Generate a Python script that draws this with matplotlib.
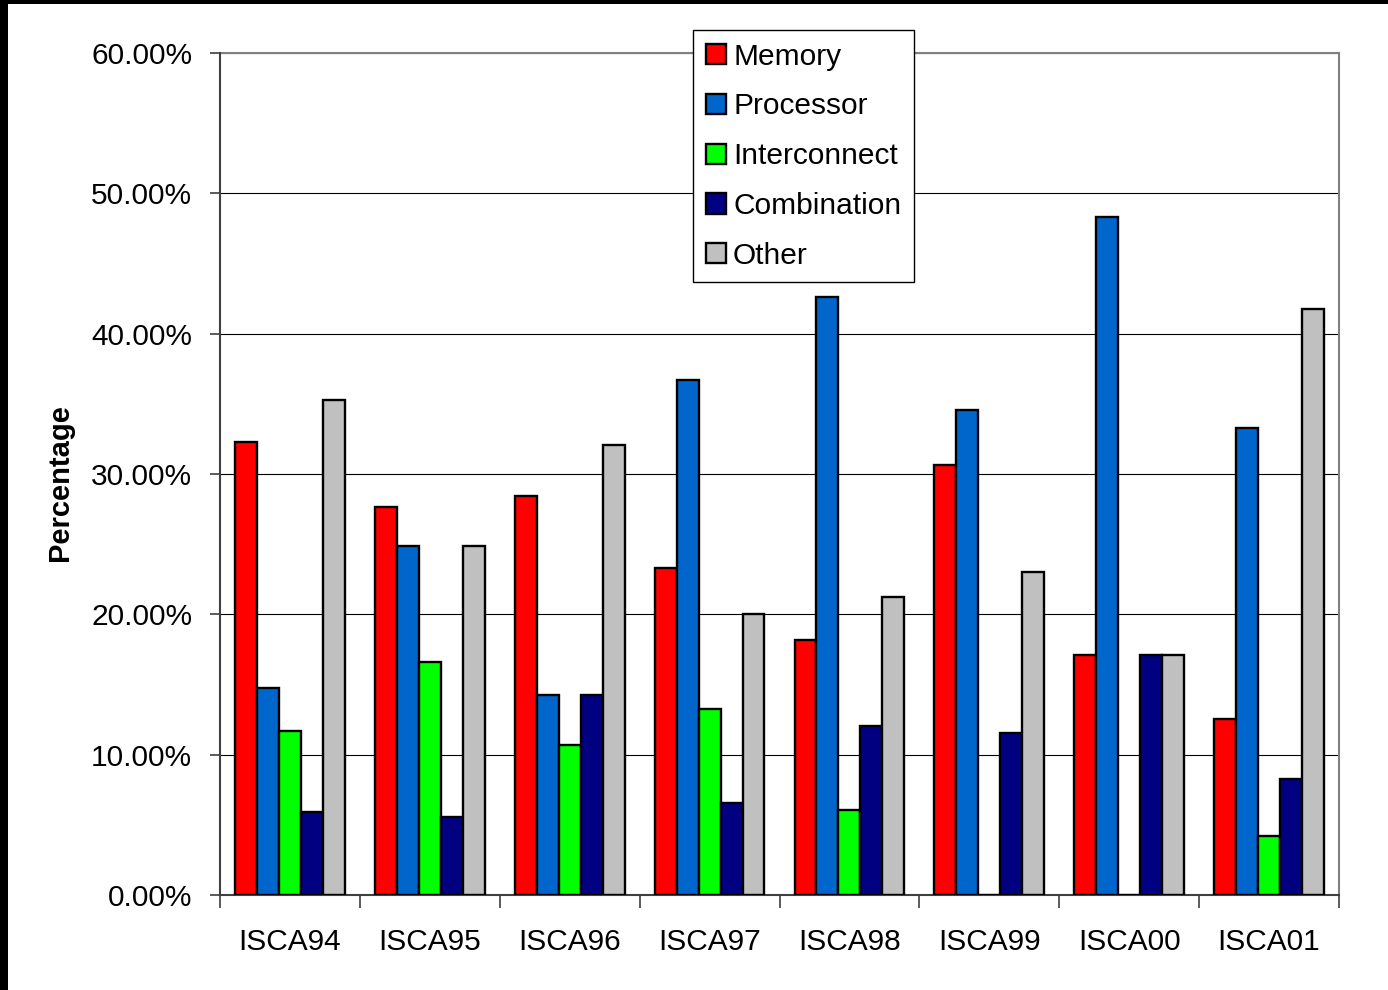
import matplotlib
matplotlib.use("Agg")
import matplotlib.pyplot as plt
from matplotlib.patches import Rectangle
from matplotlib.ticker import FixedLocator, FuncFormatter
import numpy as np

# Share of papers by research area, per conference year (percent)
conferences = ["ISCA94", "ISCA95", "ISCA96", "ISCA97", "ISCA98", "ISCA99", "ISCA00", "ISCA01"]
memory       = [32.25, 27.63, 28.46, 23.28, 18.16, 30.65, 17.10, 12.54]
processor    = [14.75, 24.90, 14.23, 36.70, 42.60, 34.55, 48.30, 33.25]
interconnect = [11.68, 16.60, 10.66, 13.25,  6.03,  0.00,  0.00,  4.17]
combination  = [ 5.92,  5.57, 14.23,  6.54, 12.03, 11.51, 17.10,  8.25]
other        = [35.25, 24.90, 32.06, 20.00, 21.24, 23.05, 17.10, 41.78]

series_names = ["Memory", "Processor", "Interconnect", "Combination", "Other"]
series_values = [memory, processor, interconnect, combination, other]
series_colors = ["#FF0000", "#0066CC", "#00FF00", "#000080", "#C0C0C0"]

y_ticks = [0, 10, 20, 30, 40, 50, 60]

plt.rcParams["font.family"] = ["Liberation Sans", "DejaVu Sans"]
FS = 21.5

W, H = 1388, 990
fig = plt.figure(figsize=(W / 100, H / 100), dpi=100)
fig.patch.set_facecolor("white")

ax = fig.add_axes([220 / W, 1 - 895 / H, (1339 - 220) / W, (895 - 53) / H])

x = np.arange(len(conferences))
bar_w = 0.157
for i, (name, vals, col) in enumerate(zip(series_names, series_values, series_colors)):
    ax.bar(x + (i - 2) * bar_w, vals, width=bar_w, color=col, edgecolor="black",
           linewidth=1.7, label=name, zorder=3)

ax.set_xlim(-0.5, len(conferences) - 0.5)
ax.set_ylim(0, 60)

# horizontal gridlines
ax.yaxis.set_major_locator(FixedLocator(y_ticks))
ax.yaxis.set_major_formatter(FuncFormatter(lambda v, p: f"{v:.2f}%"))
ax.grid(axis="y", color="black", linewidth=0.8, zorder=1)
ax.set_axisbelow(True)

# category labels centred on groups, tick marks between groups
ax.set_xticks(x)
ax.set_xticklabels(conferences)
ax.set_xticks(np.arange(-0.5, len(conferences)), minor=True)
ax.tick_params(axis="x", which="major", length=0, pad=24, labelsize=FS)
ax.tick_params(axis="x", which="minor", length=9.5, width=1.2, color="#404040")
ax.tick_params(axis="y", which="major", length=7, width=1.2, color="#404040",
               pad=13, labelsize=FS)

for side in ("top", "right"):
    ax.spines[side].set_color("#808080")
    ax.spines[side].set_linewidth(1.5)
for side in ("left", "bottom"):
    ax.spines[side].set_color("#404040")
    ax.spines[side].set_linewidth(1.5)
ax.spines["left"].set_zorder(4)

fig.text(60 / W, 1 - 483 / H, "Percentage", rotation=90, ha="center", va="center",
         fontsize=21, fontweight="bold")

leg = ax.legend(loc="upper left", bbox_to_anchor=(693 / W, 1 - 30 / H),
                bbox_transform=fig.transFigure, borderaxespad=0, fontsize=FS,
                handlelength=0.67, handleheight=0.67, handletextpad=0.25,
                labelspacing=0.73, borderpad=0.42, fancybox=False, framealpha=1,
                edgecolor="black")
leg.get_frame().set_linewidth(1.0)
leg.set_zorder(5)

# black frame strips along the top and left edges
fig.patches.append(Rectangle((0, 1 - 4 / H), 1, 4 / H, transform=fig.transFigure,
                             facecolor="black", edgecolor="none"))
fig.patches.append(Rectangle((0, 0), 8 / W, 1, transform=fig.transFigure,
                             facecolor="black", edgecolor="none"))

fig.savefig("out.png", dpi=100)
